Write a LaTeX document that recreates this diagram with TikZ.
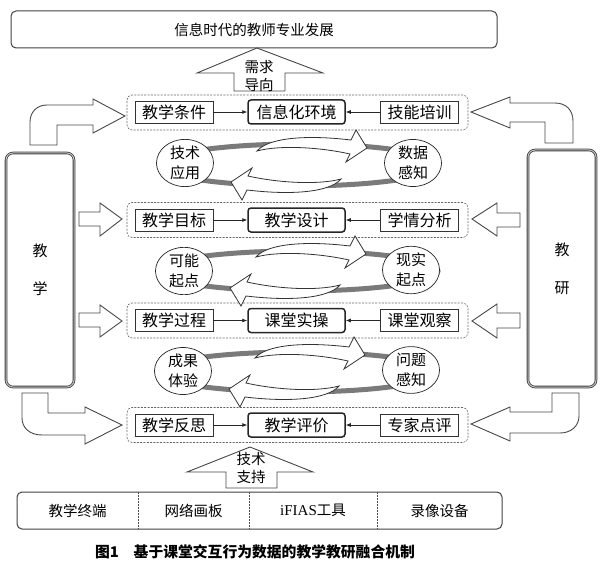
\documentclass[tikz,border=0pt]{standalone}
\usepackage{fontspec}
\setmainfont{Liberation Serif}
\newfontfamily\cjk{Noto Sans CJK SC}
\usetikzlibrary{arrows.meta,shapes.geometric}
\newcommand\mycrescent{%
  \draw[carrow] (-42,-14) .. controls (-30,-28) and (10,-30) .. (52,-25)
    -- (57,-35) -- (68,-17) -- (47,-3) -- (51,-11)
    .. controls (20,-18) and (-20,-20) .. (-42,-14) -- cycle;}
\begin{document}
\begin{tikzpicture}[x=1pt,y=-1pt,
  fA/.style={font=\cjk\fontsize{16}{18}\selectfont},
  fB/.style={font=\cjk\fontsize{14.5}{18}\selectfont},
  sidebox/.style={draw=black!80, line width=0.9pt, fill=white, minimum width=78pt, minimum height=22pt, inner sep=0pt, fA},
  corebox/.style={draw=black!85, line width=1.5pt, fill=white, rounded corners=3pt, minimum width=97pt, minimum height=24pt, inner sep=0pt, fA},
  groupbox/.style={draw=black!60, line width=0.6pt, dash pattern=on 2pt off 1.3pt, rounded corners=5pt, minimum width=341pt, minimum height=35pt, inner sep=0pt},
  cyc/.style={ellipse, draw=black!85, line width=0.7pt, fill=white, minimum width=57pt, minimum height=43pt, inner sep=0pt, align=center, font=\cjk\fontsize{15}{19.5}\selectfont},
  ring/.style={draw=black!52, line width=5pt},
  carrow/.style={draw=black!80, fill=white, line width=0.8pt, line join=miter},
  barrow/.style={draw=black!72, fill=white, line width=0.9pt, line join=miter},
  link/.style={draw=black!85, line width=0.7pt, -{Latex[length=5pt,width=4pt]}},
  sidecol/.style={draw=black!75, double=black!25, double distance=1pt, line width=0.8pt, fill=white, rounded corners=7pt, minimum width=68pt, inner sep=0pt, align=center, font=\cjk\fontsize{15}{38}\selectfont}
]
\useasboundingbox (0,0) rectangle (612,572);

% top box
\node[draw=black!75, line width=1pt, rounded corners=5pt, minimum width=486pt, minimum height=37pt, fB] (top) at (254,29.5) {信息时代的教师专业发展};

% up arrow 需求导向
\draw[barrow] (234,91) -- (234,73) -- (197,73) -- (257,48) -- (323,73) -- (285,73) -- (285,91) -- cycle;
\node[fB, align=center, inner sep=0pt] (xq) at (259,76) {需求\\导向};

% side columns
\node[sidecol, minimum height=234pt] (jx) at (40,270) {教\\学};
\node[sidecol, minimum height=237pt] (jy) at (562,268.5) {教\\研};

% left block arrows
\draw[barrow] (30,145) -- (30,122) .. controls (30,112) and (37,105) .. (47,105) -- (93,105) -- (93,99) -- (125,116) -- (93,133) -- (93,125) -- (57,125) -- (57,145) -- cycle;
\draw[barrow] (79,212) -- (100,212) -- (100,203) -- (122,219) -- (100,236) -- (100,226) -- (79,226) -- cycle;
\draw[barrow] (79,313) -- (100,313) -- (100,305) -- (122,321) -- (100,337) -- (100,327) -- (79,327) -- cycle;
\draw[barrow] (22,393) -- (22,418) .. controls (22,428) and (30,435) .. (42,435) -- (85,435) -- (85,444) -- (122,425) -- (85,407) -- (85,413) -- (48,413) -- (48,393) -- cycle;

% right block arrows
\draw[barrow] (573,143) -- (573,121) .. controls (573,110) and (566,103) .. (555,103) -- (510,103) -- (510,97) -- (471,112) -- (510,128) -- (510,122) -- (545,122) -- (545,143) -- cycle;
\draw[barrow] (520,213) -- (497,213) -- (497,203) -- (472,219) -- (497,236) -- (497,227) -- (520,227) -- cycle;
\draw[barrow] (520,313) -- (497,313) -- (497,304) -- (472,321) -- (497,338) -- (497,328) -- (520,328) -- cycle;
\draw[barrow] (579,393) -- (579,416) .. controls (579,426) and (571,433) .. (560,433) -- (510,433) -- (510,441) -- (471,424) -- (510,407) -- (510,412) -- (552,412) -- (552,393) -- cycle;

% rows
\node[groupbox] (g1) at (297.5,112.5) {};
\node[sidebox] (l1) at (174,112) {教学条件};
\node[corebox] (c1) at (296.5,112) {信息化环境};
\node[sidebox] (r1) at (419.5,112) {技能培训};
\draw[link] (l1) -- (c1);
\draw[link] (r1) -- (c1);

\node[groupbox] (g2) at (297.5,220) {};
\node[sidebox] (l2) at (174,220) {教学目标};
\node[corebox] (c2) at (296.5,220) {教学设计};
\node[sidebox] (r2) at (419.5,220) {学情分析};
\draw[link] (l2) -- (c2);
\draw[link] (r2) -- (c2);

\node[groupbox] (g3) at (297.5,320.5) {};
\node[sidebox] (l3) at (174,320.5) {教学过程};
\node[corebox] (c3) at (296.5,320.5) {课堂实操};
\node[sidebox] (r3) at (419.5,320.5) {课堂观察};
\draw[link] (l3) -- (c3);
\draw[link] (r3) -- (c3);

\node[groupbox] (g4) at (297.5,425) {};
\node[sidebox] (l4) at (174,425) {教学反思};
\node[corebox] (c4) at (296.5,425) {教学评价};
\node[sidebox] (r4) at (419.5,425) {专家点评};
\draw[link] (l4) -- (c4);
\draw[link] (r4) -- (c4);

% cycles
\begin{scope}[shift={(299,165)}]
  \draw[ring] (0,0) ellipse [x radius=140pt, y radius=21pt];
  \mycrescent
  \begin{scope}[rotate=180]\mycrescent\end{scope}
\end{scope}
\node[cyc] (a1) at (185,163) {技术\\应用};
\node[cyc] (b1) at (413,163) {数据\\感知};

\begin{scope}[shift={(298,271)}]
  \draw[ring] (0,0) ellipse [x radius=140pt, y radius=20pt];
  \mycrescent
  \begin{scope}[rotate=180]\mycrescent\end{scope}
\end{scope}
\node[cyc] (a2) at (184,271) {可能\\起点};
\node[cyc] (b2) at (411,270) {现实\\起点};

\begin{scope}[shift={(297,372)}]
  \draw[ring] (0,0) ellipse [x radius=140pt, y radius=20pt];
  \mycrescent
  \begin{scope}[rotate=180]\mycrescent\end{scope}
\end{scope}
\node[cyc] (a3) at (183,371) {成果\\体验};
\node[cyc] (b3) at (411,370) {问题\\感知};

% up arrow 技术支持
\draw[barrow] (226,488) -- (226,472) -- (187,472) -- (250,447) -- (313,472) -- (277,472) -- (277,488) -- cycle;
\node[fB, align=center, inner sep=0pt] (js) at (251,467.5) {技术\\支持};

% bottom box
\node[draw=black!75, line width=1pt, rounded corners=5pt, minimum width=485pt, minimum height=37pt] (bot) at (259.5,510.5) {};
\draw[black!70, line width=0.7pt, dash pattern=on 1.5pt off 1.5pt] (138,492) -- (138,529);
\draw[black!70, line width=0.7pt, dash pattern=on 1.5pt off 1.5pt] (249,492) -- (249,529);
\draw[black!70, line width=0.7pt, dash pattern=on 1.5pt off 1.5pt] (377,492) -- (377,529);
\node[fB] (t1) at (77.5,510.5) {教学终端};
\node[fB] (t2) at (193.5,510.5) {网络画板};
\node[fB] (t3) at (313,510.5) {{\fontsize{15}{18}\rmfamily iFIAS}工具};
\node[fB] (t4) at (439.5,510.5) {录像设备};

% caption
\node[font=\cjk\bfseries\fontsize{14.8}{18}\selectfont] (cap) at (255,552) {图1\hspace{1em}基于课堂交互行为数据的教学教研融合机制};
\end{tikzpicture}
\end{document}
